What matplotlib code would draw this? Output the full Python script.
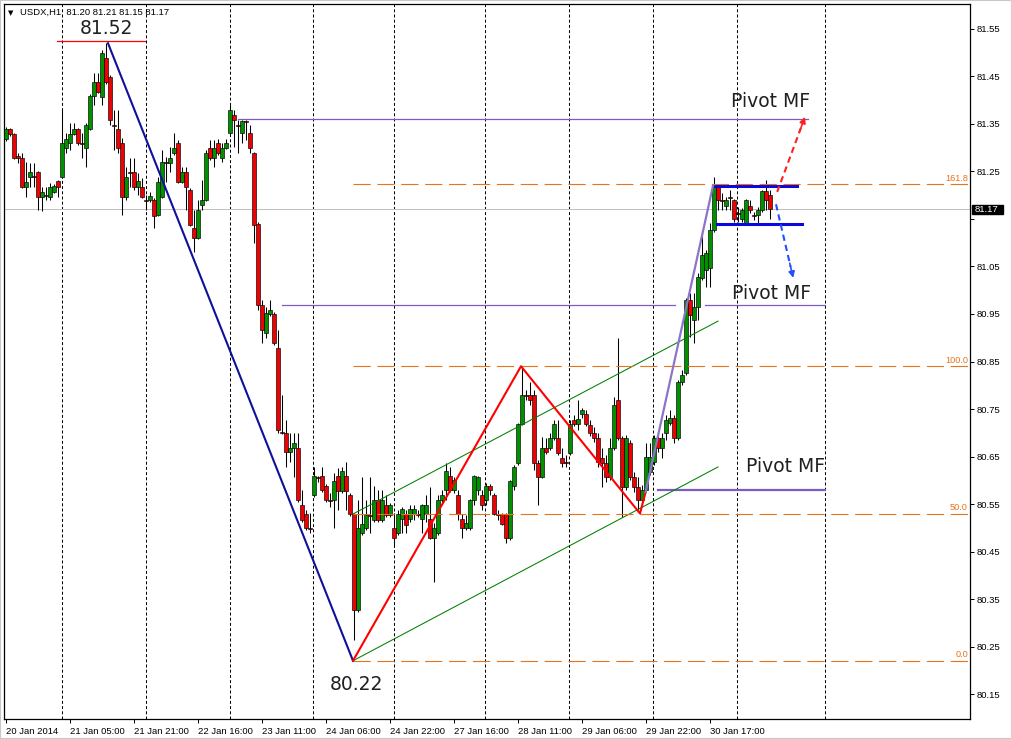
import numpy as np
import matplotlib
matplotlib.use("Agg")
import matplotlib.pyplot as plt
from matplotlib.patches import Rectangle

plt.rcParams['font.family'] = ['Liberation Sans', 'DejaVu Sans']

# ---------------- data (USDX, H1) ----------------
opens = [81.318, 81.339, 81.329, 81.283, 81.278, 81.217, 81.238, 81.240, 81.249, 81.196,
         81.198, 81.196, 81.207, 81.230, 81.238, 81.299, 81.310, 81.329, 81.339, 81.310,
         81.299, 81.339, 81.409, 81.438, 81.407, 81.489, 81.449, 81.348, 81.339, 81.310,
         81.196, 81.249, 81.249, 81.217, 81.217, 81.190, 81.190, 81.190, 81.158, 81.196,
         81.270, 81.268, 81.289, 81.310, 81.228, 81.249, 81.211, 81.131, 81.110, 81.179,
         81.190, 81.299, 81.278, 81.310, 81.278, 81.299, 81.331, 81.369, 81.348, 81.331,
         81.356, 81.331, 81.289, 81.139, 80.969, 80.910, 80.950, 80.950, 80.878, 80.701,
         80.699, 80.659, 80.668, 80.668, 80.548, 80.529, 80.499, 80.569, 80.607, 80.609,
         80.588, 80.558, 80.558, 80.609, 80.577, 80.609, 80.569, 80.529, 80.327, 80.489,
         80.499, 80.527, 80.516, 80.558, 80.516, 80.548, 80.527, 80.499, 80.489, 80.518,
         80.529, 80.518, 80.529, 80.529, 80.518, 80.529, 80.518, 80.478, 80.489, 80.558,
         80.579, 80.609, 80.579, 80.569, 80.518, 80.499, 80.499, 80.558, 80.579, 80.569,
         80.558, 80.588, 80.569, 80.529, 80.529, 80.529, 80.478, 80.588, 80.636, 80.718,
         80.779, 80.779, 80.779, 80.636, 80.607, 80.668, 80.668, 80.689, 80.689, 80.647,
         80.638, 80.657, 80.727, 80.718, 80.739, 80.739, 80.716, 80.699, 80.689, 80.647,
         80.636, 80.607, 80.668, 80.769, 80.689, 80.586, 80.678, 80.607, 80.586, 80.558,
         80.579, 80.617, 80.638, 80.689, 80.668, 80.699, 80.720, 80.731, 80.689, 80.807,
         80.826, 80.979, 80.937, 80.965, 81.026, 81.043, 81.047, 81.127, 81.217, 81.190,
         81.177, 81.196, 81.190, 81.163, 81.150, 81.141, 81.177, 81.158, 81.158, 81.169,
         81.209, 81.200]
highs = [81.344, 81.341, 81.331, 81.289, 81.289, 81.270, 81.268, 81.268, 81.251, 81.217,
         81.217, 81.226, 81.224, 81.232, 81.379, 81.331, 81.352, 81.352, 81.341, 81.331,
         81.352, 81.413, 81.457, 81.457, 81.506, 81.520, 81.453, 81.379, 81.379, 81.320,
         81.259, 81.278, 81.278, 81.247, 81.236, 81.200, 81.207, 81.194, 81.238, 81.295,
         81.280, 81.302, 81.331, 81.316, 81.259, 81.259, 81.215, 81.169, 81.190, 81.232,
         81.295, 81.316, 81.316, 81.318, 81.310, 81.318, 81.390, 81.379, 81.358, 81.358,
         81.358, 81.348, 81.291, 81.144, 80.979, 80.965, 80.979, 80.954, 80.916, 80.779,
         80.727, 80.699, 80.699, 80.699, 80.579, 80.537, 80.531, 80.628, 80.609, 80.628,
         80.592, 80.573, 80.615, 80.626, 80.628, 80.638, 80.573, 80.531, 80.558, 80.607,
         80.558, 80.607, 80.588, 80.579, 80.579, 80.569, 80.552, 80.531, 80.537, 80.544,
         80.537, 80.548, 80.548, 80.537, 80.550, 80.569, 80.586, 80.510, 80.569, 80.579,
         80.636, 80.628, 80.607, 80.579, 80.529, 80.527, 80.560, 80.611, 80.609, 80.579,
         80.594, 80.592, 80.573, 80.537, 80.531, 80.531, 80.600, 80.632, 80.720, 80.838,
         80.790, 80.807, 80.790, 80.643, 80.691, 80.689, 80.699, 80.727, 80.727, 80.668,
         80.653, 80.727, 80.737, 80.769, 80.752, 80.748, 80.727, 80.712, 80.699, 80.668,
         80.653, 80.689, 80.775, 80.899, 80.693, 80.695, 80.685, 80.617, 80.607, 80.590,
         80.678, 80.678, 80.695, 80.695, 80.699, 80.737, 80.748, 80.737, 80.811, 80.832,
         80.984, 80.994, 80.994, 81.036, 81.127, 81.085, 81.141, 81.238, 81.219, 81.205,
         81.196, 81.211, 81.192, 81.175, 81.173, 81.192, 81.190, 81.165, 81.175, 81.211,
         81.232, 81.210]
lows = [81.314, 81.325, 81.276, 81.268, 81.215, 81.196, 81.217, 81.217, 81.169, 81.167,
        81.190, 81.190, 81.205, 81.196, 81.236, 81.289, 81.295, 81.327, 81.306, 81.278,
        81.259, 81.337, 81.390, 81.415, 81.390, 81.434, 81.348, 81.295, 81.289, 81.158,
        81.190, 81.217, 81.211, 81.200, 81.194, 81.169, 81.186, 81.131, 81.156, 81.194,
        81.228, 81.249, 81.285, 81.226, 81.226, 81.169, 81.135, 81.080, 81.108, 81.169,
        81.188, 81.274, 81.259, 81.285, 81.270, 81.297, 81.327, 81.302, 81.289, 81.310,
        81.316, 81.289, 81.099, 80.958, 80.889, 80.899, 80.946, 80.885, 80.699, 80.697,
        80.628, 80.638, 80.607, 80.554, 80.512, 80.495, 80.489, 80.565, 80.596, 80.575,
        80.554, 80.544, 80.499, 80.537, 80.573, 80.537, 80.525, 80.264, 80.323, 80.485,
        80.495, 80.489, 80.512, 80.512, 80.512, 80.523, 80.523, 80.459, 80.485, 80.489,
        80.489, 80.512, 80.516, 80.523, 80.489, 80.512, 80.476, 80.386, 80.485, 80.554,
        80.558, 80.575, 80.573, 80.516, 80.478, 80.495, 80.495, 80.548, 80.569, 80.537,
        80.548, 80.569, 80.527, 80.516, 80.506, 80.468, 80.474, 80.579, 80.632, 80.716,
        80.769, 80.758, 80.622, 80.548, 80.605, 80.655, 80.664, 80.685, 80.653, 80.628,
        80.628, 80.653, 80.714, 80.706, 80.731, 80.714, 80.693, 80.680, 80.628, 80.586,
        80.596, 80.600, 80.664, 80.685, 80.523, 80.579, 80.600, 80.575, 80.537, 80.548,
        80.575, 80.611, 80.632, 80.659, 80.647, 80.685, 80.716, 80.678, 80.685, 80.801,
        80.822, 80.902, 80.889, 80.937, 81.021, 81.007, 81.007, 81.123, 81.169, 81.169,
        81.169, 81.169, 81.144, 81.144, 81.144, 81.139, 81.163, 81.148, 81.141, 81.165,
        81.169, 81.150]
closes = [81.339, 81.329, 81.278, 81.278, 81.217, 81.228, 81.249, 81.238, 81.196, 81.207,
          81.200, 81.217, 81.219, 81.217, 81.310, 81.318, 81.329, 81.339, 81.310, 81.308,
          81.348, 81.409, 81.438, 81.417, 81.499, 81.438, 81.358, 81.346, 81.299, 81.196,
          81.238, 81.247, 81.217, 81.230, 81.196, 81.188, 81.198, 81.156, 81.228, 81.270,
          81.268, 81.278, 81.299, 81.228, 81.249, 81.217, 81.137, 81.110, 81.169, 81.190,
          81.289, 81.278, 81.299, 81.289, 81.299, 81.310, 81.379, 81.358, 81.346, 81.356,
          81.354, 81.299, 81.137, 80.969, 80.916, 80.952, 80.958, 80.889, 80.706, 80.699,
          80.659, 80.668, 80.678, 80.558, 80.516, 80.499, 80.497, 80.609, 80.605, 80.579,
          80.558, 80.556, 80.598, 80.577, 80.619, 80.577, 80.529, 80.327, 80.499, 80.508,
          80.527, 80.525, 80.558, 80.516, 80.558, 80.527, 80.548, 80.478, 80.529, 80.539,
          80.506, 80.539, 80.539, 80.527, 80.548, 80.548, 80.478, 80.499, 80.558, 80.569,
          80.619, 80.579, 80.600, 80.529, 80.499, 80.510, 80.558, 80.609, 80.607, 80.548,
          80.588, 80.579, 80.529, 80.527, 80.508, 80.478, 80.598, 80.628, 80.718, 80.779,
          80.777, 80.769, 80.636, 80.607, 80.668, 80.659, 80.689, 80.718, 80.657, 80.636,
          80.636, 80.718, 80.718, 80.729, 80.748, 80.718, 80.699, 80.689, 80.638, 80.636,
          80.607, 80.668, 80.758, 80.689, 80.586, 80.689, 80.607, 80.586, 80.558, 80.579,
          80.649, 80.649, 80.689, 80.668, 80.689, 80.727, 80.731, 80.689, 80.807, 80.822,
          80.979, 80.948, 80.965, 81.028, 81.074, 81.078, 81.127, 81.217, 81.190, 81.188,
          81.190, 81.194, 81.150, 81.161, 81.169, 81.190, 81.169, 81.156, 81.169, 81.209,
          81.190, 81.170]

tick_bars = [0, 16, 32, 48, 64, 80, 96, 112, 128, 144, 160, 176]
tick_labels = ["20 Jan 2014", "21 Jan 05:00", "21 Jan 21:00", "22 Jan 16:00",
               "23 Jan 11:00", "24 Jan 06:00", "24 Jan 22:00", "27 Jan 16:00",
               "28 Jan 11:00", "29 Jan 06:00", "29 Jan 22:00", "30 Jan 17:00"]
price_ticks = [81.55, 81.45, 81.35, 81.25, 81.15, 81.05, 80.95, 80.85,
               80.75, 80.65, 80.55, 80.45, 80.35, 80.25, 80.15]
day_separators = [14, 35, 56, 76.75, 97, 119.75, 140.75, 161.75, 182.75, 204.75]

fib_labels = ["0.0", "50.0", "100.0", "161.8"]
fib_prices = [80.22, 80.53, 80.84, 81.2232]
fib_start = 86.75

wave_down_x = [25.5, 86.75]          # 81.52 -> 80.22
wave_down_y = [81.52, 80.22]
zigzag_x = [86.75, 128.75, 158.5, 159.9]
zigzag_y = [80.22, 80.84, 80.53, 80.575]
impulse_x = [159.9, 176.75]
impulse_y = [80.575, 81.22]
chan_x = [86.75, 178.0]
chan_upper = [80.529, 80.935]
chan_lower = [80.22, 80.628]
box_top = (176.75, 197.75, 81.22)
box_bot = (177.75, 199.0, 81.14)
pivot_top = (58.0, 200.5, 81.36)
pivot_mid = [(69.0, 167.25, 80.968), (174.75, 204.75, 80.968)]
pivot_low = (163.0, 204.75, 80.58)
up_arrow = [(192.8, 81.207), (199.75, 81.365)]
down_arrow = [(192.5, 81.181), (196.8, 81.026)]
last_price = 81.17

# ---------------- figure ----------------
W, H = 1012, 739
fig = plt.figure(figsize=(W / 100, H / 100), dpi=100)
fig.patch.set_facecolor('white')
ax = fig.add_axes([4 / W, 20 / H, 966 / W, 715 / H])
ax.set_xlim(-0.5, 241)
ax.set_ylim(80.0974, 81.6026)

o = np.array(opens); h = np.array(highs); l = np.array(lows); c = np.array(closes)
x = np.arange(len(o))
up = c >= o
bottom = np.minimum(o, c)
height = np.maximum(np.abs(c - o), 0.0012)

# separators and bid line
for s in day_separators:
    ax.axvline(s, color='black', lw=0.72, dashes=(3, 2.2), zorder=1)
ax.axhline(last_price, color='#C0C0C0', lw=0.72, zorder=1)

# candles
ax.vlines(x, l, h, color='black', lw=0.75, zorder=3)
ax.bar(x[up], height[up], bottom=bottom[up], width=0.8, color='#009000',
       edgecolor='black', linewidth=0.45, zorder=4)
ax.bar(x[~up], height[~up], bottom=bottom[~up], width=0.8, color='#F00000',
       edgecolor='black', linewidth=0.45, zorder=4)

# fibo levels
fib_color = '#E8731E'
for lab, p in zip(fib_labels, fib_prices):
    ax.plot([fib_start, 241], [p, p], color=fib_color, lw=0.8, dashes=(15.5, 6), zorder=6)
    ax.annotate(lab, xy=(1, p), xycoords=('axes fraction', 'data'), xytext=(-2, 1.5),
                textcoords='offset pixels', ha='right', va='bottom', color=fib_color,
                fontsize=6.6)

purple = '#7A5CC4'
# pivot lines
ax.plot(pivot_top[:2], [pivot_top[2]] * 2, color=purple, lw=0.9, zorder=5)
for a, b, p in pivot_mid:
    ax.plot([a, b], [p, p], color=purple, lw=0.9, zorder=5)
ax.plot(pivot_low[:2], [pivot_low[2]] * 2, color=purple, lw=1.6, zorder=5)

# channel
ax.plot(chan_x, chan_upper, color='#008000', lw=0.75, zorder=5)
ax.plot(chan_x, chan_lower, color='#008000', lw=0.75, zorder=5)

# waves
ax.plot(wave_down_x, wave_down_y, color='#10109A', lw=1.5, zorder=7)
ax.plot(zigzag_x, zigzag_y, color='#FF0000', lw=1.5, zorder=7)
ax.plot(impulse_x, impulse_y, color='#8C74C8', lw=1.6, zorder=7)
ax.plot([12.75, 34.75], [81.525, 81.525], color='#FF0000', lw=0.9, zorder=7)

# consolidation box lines
ax.plot(box_top[:2], [box_top[2]] * 2, color='#0A0ADC', lw=2.2, zorder=5.5)
ax.plot(box_bot[:2], [box_bot[2]] * 2, color='#0A0ADC', lw=2.2, zorder=7)

# arrows
for pts, col in ((up_arrow, '#FF2020'), (down_arrow, '#2050FF')):
    (x0, y0), (x1, y1) = pts
    ax.plot([x0, x0 + 0.85 * (x1 - x0)], [y0, y0 + 0.85 * (y1 - y0)], color=col,
            lw=1.5, dashes=(3, 2), zorder=8)
    ax.annotate('', xy=(x1, y1), xytext=(x0 + 0.8 * (x1 - x0), y0 + 0.8 * (y1 - y0)),
                arrowprops=dict(arrowstyle='-|>', color=col, lw=1.2, mutation_scale=9,
                                shrinkA=0, shrinkB=0), zorder=8)

# texts
tc = '#202020'
ax.text(191.25, 81.398, 'Pivot MF', ha='center', va='center', fontsize=13.5,
        family='DejaVu Sans', color=tc, zorder=9)
ax.text(191.5, 80.994, 'Pivot MF', ha='center', va='center', fontsize=13.5,
        family='DejaVu Sans', color=tc, zorder=9)
ax.text(195.0, 80.628, 'Pivot MF', ha='center', va='center', fontsize=13.5,
        family='DejaVu Sans', color=tc, zorder=9)
ax.text(25.0, 81.551, '81.52', ha='center', va='center', fontsize=13.5,
        family='DejaVu Sans', color=tc, zorder=9)
ax.text(87.5, 80.169, '80.22', ha='center', va='center', fontsize=13.5,
        family='DejaVu Sans', color=tc, zorder=9)

# axes styling
for sp in ax.spines.values():
    sp.set_color('black')
    sp.set_linewidth(0.9)
ax.yaxis.tick_right()
ax.set_yticks(price_ticks)
ax.set_yticklabels(['' if abs(t - 81.15) < 1e-6 else f'{t:.2f}' for t in price_ticks])
ax.tick_params(axis='y', length=2.9, width=0.72, pad=2, labelsize=6.8, colors='black')
ax.set_xticks(tick_bars)
ax.set_xticklabels(tick_labels)
ax.tick_params(axis='x', length=2.9, width=0.72, pad=2.5, labelsize=6.8, colors='black')
for lbl in ax.get_xticklabels():
    lbl.set_ha('left')

# partly hidden 81.15 label + bid price box
ax.annotate('81.15', xy=(1, 81.166), xycoords=('axes fraction', 'data'), xytext=(5, 0),
            textcoords='offset pixels', ha='left', va='center', fontsize=6.8,
            color='black', annotation_clip=False)
trans = matplotlib.transforms.blended_transform_factory(ax.transAxes, ax.transData)
ax.add_patch(Rectangle((1.0021, last_price - 0.0095), 0.0321, 0.019, transform=trans,
                       facecolor='black', edgecolor='black', clip_on=False, zorder=10))
ax.annotate(f'{last_price:.2f}', xy=(1, last_price), xycoords=('axes fraction', 'data'),
            xytext=(5, 0), textcoords='offset pixels', ha='left', va='center',
            fontsize=6.8, color='white', zorder=11, annotation_clip=False)

# header
fig.text(8 / W, 1 - 13 / H, '\u25BC', fontsize=5, family='DejaVu Sans', va='center')
fig.text(20 / W, 1 - 12.5 / H, 'USDX,H1  81.20 81.21 81.15 81.17', fontsize=6.8,
         va='center', color='black')

# window border
fig.add_artist(Rectangle((0, 0), 1, 1, transform=fig.transFigure, fill=False,
                         edgecolor='#C8C8C8', lw=1.5))

fig.savefig('out.png', dpi=100)
